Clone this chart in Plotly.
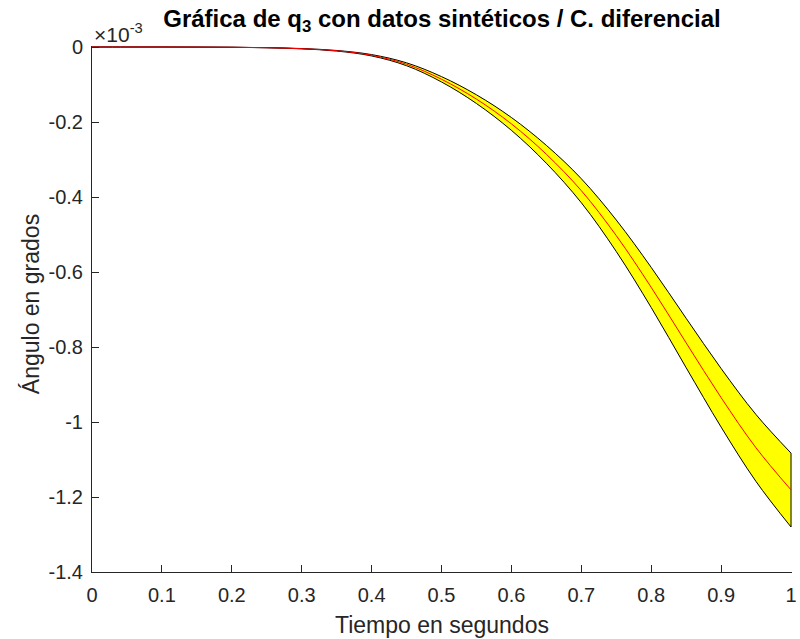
import plotly.graph_objects as go

# Time (s) and joint angle q3 (units of 1e-3 degrees)
t = [0.0, 0.05, 0.1, 0.15, 0.2, 0.25, 0.3, 0.35, 0.4, 0.45, 0.5,
     0.55, 0.6, 0.65, 0.7, 0.75, 0.8, 0.85, 0.9, 0.95, 1.0]
q3_mean = [0.0, 0.0, 0.0, -0.0002, -0.0006, -0.0018, -0.0045, -0.010, -0.022, -0.046, -0.086,
           -0.139, -0.205, -0.286, -0.383, -0.503, -0.641, -0.789, -0.935, -1.069, -1.181]
q3_upper = [0.0, 0.0, 0.0, -0.0002, -0.0006, -0.0017, -0.0041, -0.0092, -0.0202, -0.0422, -0.0789,
            -0.1275, -0.1880, -0.2623, -0.3512, -0.4613, -0.5878, -0.7235, -0.8574, -0.9803, -1.083]
q3_lower = [0.0, 0.0, 0.0, -0.0002, -0.0007, -0.0020, -0.0049, -0.0108, -0.0238, -0.0499, -0.0932,
            -0.1507, -0.2222, -0.3100, -0.4152, -0.5453, -0.6948, -0.8553, -1.0135, -1.1588, -1.280]

x_ticks = [0, 0.1, 0.2, 0.3, 0.4, 0.5, 0.6, 0.7, 0.8, 0.9, 1]
x_tick_text = ["0", "0.1", "0.2", "0.3", "0.4", "0.5", "0.6", "0.7", "0.8", "0.9", "1"]
y_ticks = [0, -0.2, -0.4, -0.6, -0.8, -1.0, -1.2, -1.4]
y_tick_text = ["0", "-0.2", "-0.4", "-0.6", "-0.8", "-1", "-1.2", "-1.4"]

FONT = "Liberation Sans, Arial, Helvetica, sans-serif"
AX = "#262626"

fig = go.Figure()

# confidence band: lower edge, then upper edge filled down to it
fig.add_trace(go.Scatter(x=t, y=q3_lower, mode="lines",
                         line=dict(color="black", width=1, shape="spline", smoothing=1.0),
                         hoverinfo="skip", showlegend=False))
fig.add_trace(go.Scatter(x=t, y=q3_upper, mode="lines", fill="tonexty", fillcolor="#FFFF00",
                         line=dict(color="black", width=1, shape="spline", smoothing=1.0),
                         hoverinfo="skip", showlegend=False))
# closing edge of the band at the final time
fig.add_trace(go.Scatter(x=[t[-1], t[-1]], y=[q3_upper[-1], q3_lower[-1]], mode="lines",
                         line=dict(color="black", width=1), hoverinfo="skip", showlegend=False))
# mean trajectory
fig.add_trace(go.Scatter(x=t, y=q3_mean, mode="lines",
                         line=dict(color="red", width=1, shape="spline", smoothing=1.0),
                         showlegend=False))

fig.update_layout(
    width=800, height=639,
    margin=dict(l=92, r=3, t=46, b=67),
    paper_bgcolor="white", plot_bgcolor="white",
    font=dict(family=FONT, color=AX),
    title=dict(text="<b>Gráfica de q<sub>3</sub> con datos sintéticos / C. diferencial</b>",
               x=0.5, xref="paper", xanchor="center",
               y=1 - 19 / 639, yref="container", yanchor="middle",
               font=dict(size=24, color="black", family=FONT)),
    xaxis=dict(range=[0, 1.0014], tickvals=x_ticks, ticktext=x_tick_text,
               ticks="inside", ticklen=7, tickcolor=AX, tickwidth=1,
               showline=True, linecolor=AX, linewidth=1, mirror=False,
               showgrid=False, zeroline=False, ticklabeloverflow="allow",
               tickfont=dict(size=20, color=AX, family=FONT), ticklabelstandoff=5),
    yaxis=dict(range=[-1.4, 0.0027], tickvals=y_ticks, ticktext=y_tick_text,
               ticks="inside", ticklen=7, tickcolor=AX, tickwidth=1,
               showline=True, linecolor=AX, linewidth=1, mirror=False,
               showgrid=False, zeroline=False, ticklabeloverflow="allow",
               tickfont=dict(size=20, color=AX, family=FONT), ticklabelstandoff=4),
    annotations=[
        dict(text="×10<sup>-3</sup>", xref="paper", yref="paper", x=0, y=1,
             xanchor="left", yanchor="bottom", xshift=0, yshift=-2, showarrow=False,
             font=dict(size=21, color=AX, family=FONT)),
        dict(text="Tiempo en segundos", xref="paper", yref="paper", x=0.5, y=-(625 - 572) / 526,
             xanchor="center", yanchor="middle", showarrow=False,
             font=dict(size=23, color=AX, family=FONT)),
        dict(text="Ángulo en grados", xref="paper", yref="paper", x=-(92 - 30) / 705, y=0.51,
             xanchor="center", yanchor="middle", textangle=-90, showarrow=False,
             font=dict(size=23, color=AX, family=FONT)),
    ],
)

fig.write_html("out.html")
